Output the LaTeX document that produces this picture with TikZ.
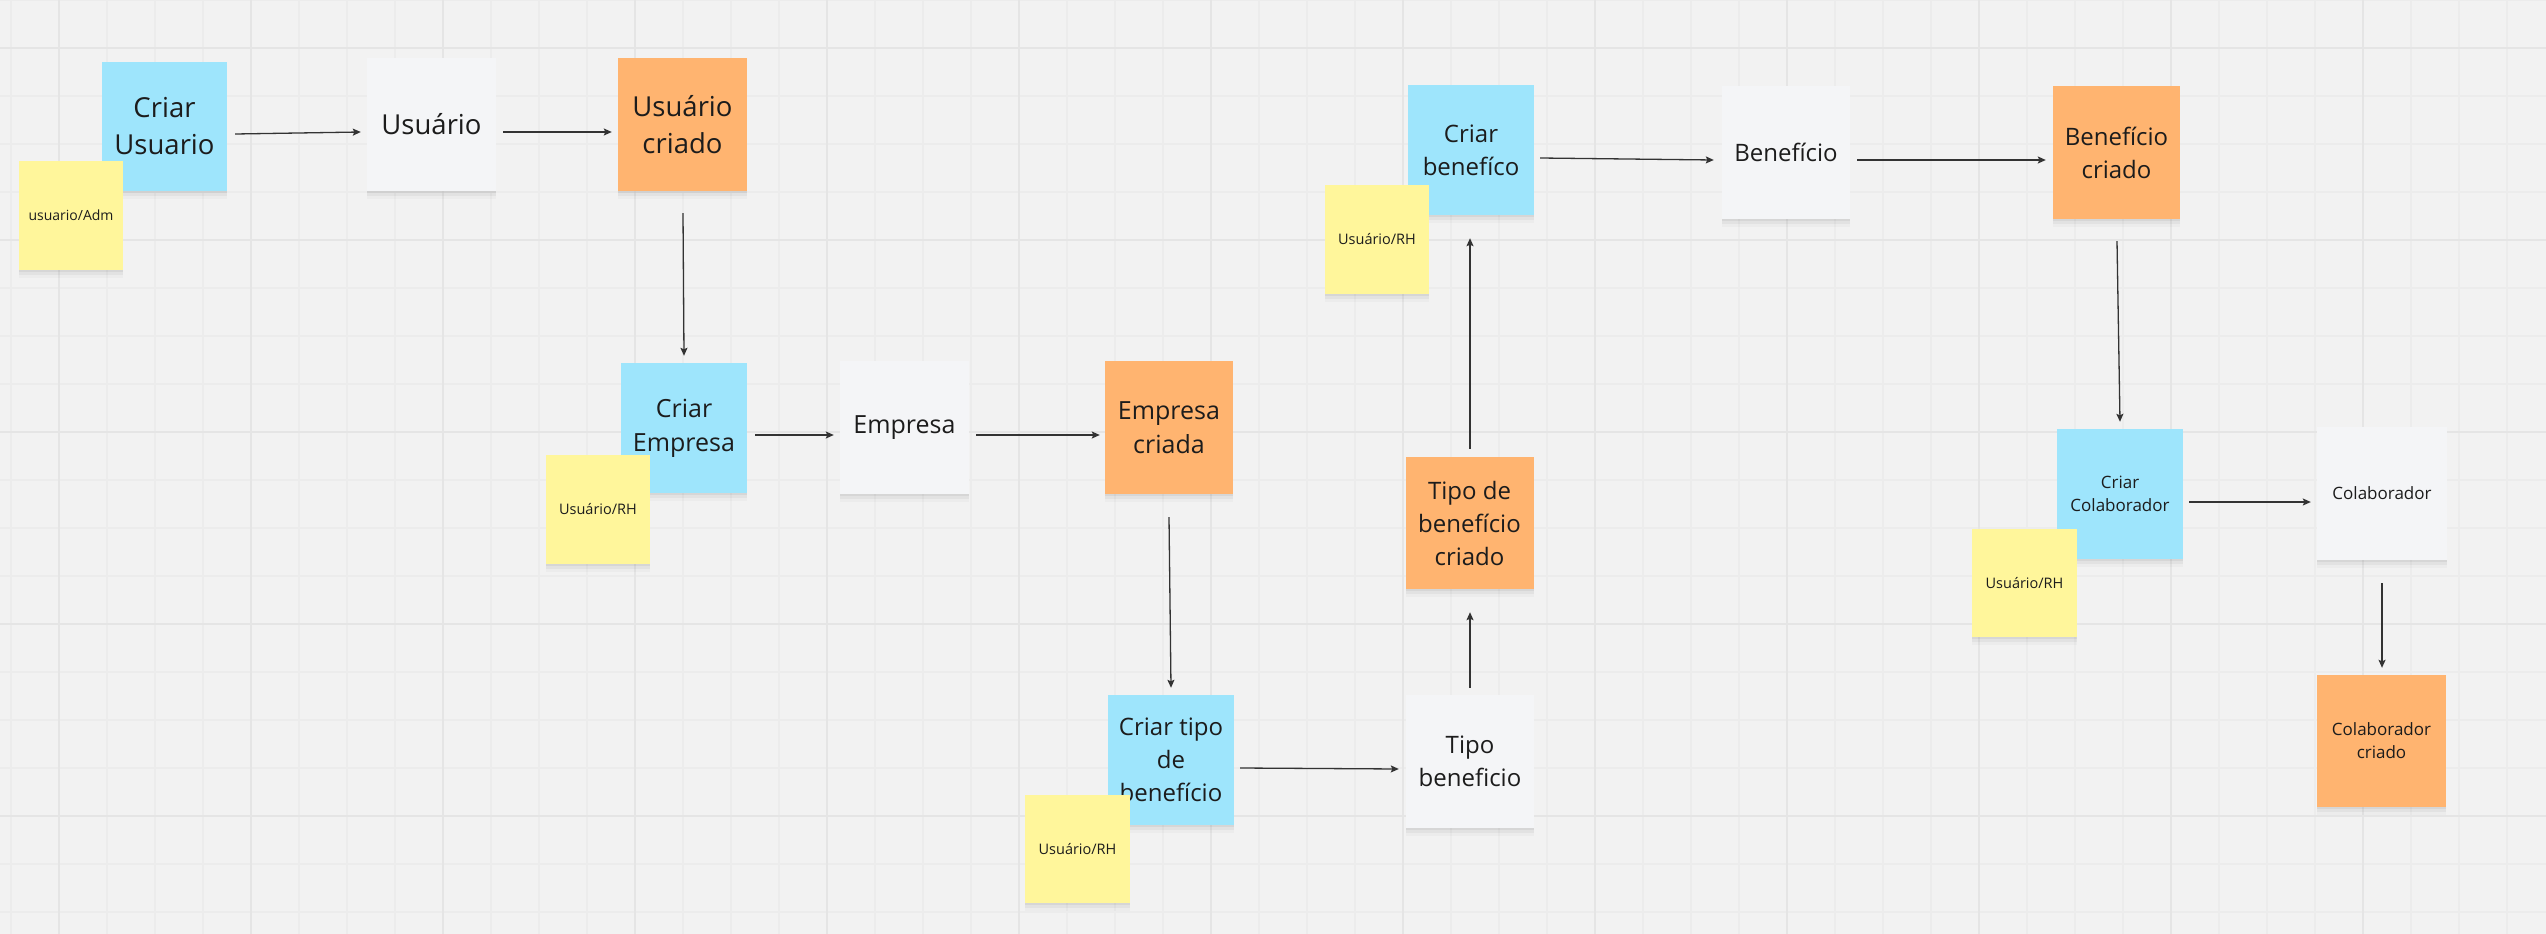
\documentclass[tikz,border=0pt]{standalone}
\usepackage{fontspec}
\setmainfont{Open Sans}
\usetikzlibrary{arrows.meta,calc,shadows}
\definecolor{bgc}{HTML}{F2F2F2}
\definecolor{minorc}{HTML}{ECECEC}
\definecolor{majorc}{HTML}{E5E5E5}
\definecolor{bluec}{HTML}{9EE5FC}
\definecolor{yellowc}{HTML}{FFF69B}
\definecolor{orangec}{HTML}{FFB470}
\definecolor{whitec}{HTML}{F4F5F7}
\definecolor{txtc}{HTML}{1C1C1C}
\definecolor{arrc}{HTML}{333333}
\tikzset{
  note/.style={rectangle, inner sep=0pt, align=center, text=txtc,
    minimum width=127pt, minimum height=131pt,
    drop shadow={shadow xshift=0pt, shadow yshift=-2pt, opacity=0.05, fill=black},
    drop shadow={shadow xshift=0pt, shadow yshift=-5pt, opacity=0.04, fill=black},
    drop shadow={shadow xshift=0pt, shadow yshift=-8pt, opacity=0.025, fill=black}},
  bluenote/.style={note, fill=bluec},
  orangenote/.style={note, fill=orangec},
  whitenote/.style={note, fill=whitec},
  yellownote/.style={note, fill=yellowc, minimum width=104pt, minimum height=108pt,
    font=\fontsize{14.5}{19}\selectfont},
  fa/.style={font=\fontsize{27.5}{37}\selectfont},
  fb/.style={font=\fontsize{25}{34}\selectfont},
  fc/.style={font=\fontsize{24}{33}\selectfont},
  fd/.style={font=\fontsize{17}{23}\selectfont},
  arr/.style={draw=arrc, line width=1.3pt, -{Stealth[length=8pt,width=7pt,inset=1.5pt]}},
  minorline/.style={draw=minorc, line width=1.3pt},
  majorline/.style={draw=majorc, line width=2.2pt}
}
\begin{document}
\begin{tikzpicture}[x=1pt,y=-1pt]
\fill[bgc] (0,0) rectangle (2546,934);
\useasboundingbox (0,0) rectangle (2546,934);
% grid
\foreach \x in {11,59,...,2543} \draw[minorline] (\x,0) -- (\x,934);
\foreach \y in {0,48,...,930} \draw[minorline] (0,\y) -- (2546,\y);
\foreach \x in {59,251,...,2543} \draw[majorline] (\x,0) -- (\x,934);
\foreach \y in {48,240,...,930} \draw[majorline] (0,\y) -- (2546,\y);

% row 1: user
\node[bluenote, fa, minimum width=125pt, minimum height=129pt] (cu) at (164.5,126.5) {Criar\\Usuario};
\node[yellownote, font=\fontsize{14}{18}\selectfont, minimum height=109pt] (ua) at (71,215.5) {usuario/Adm};
\node[whitenote, fa, minimum width=129pt, minimum height=133pt] (us) at (431.5,124.5) {Usuário};
\node[orangenote, fa, minimum width=129pt, minimum height=133pt] (uc) at (682.5,124.5) {Usuário\\criado};

% row 2: company
\node[bluenote, fb, minimum width=126pt, minimum height=130pt] (ce) at (684,428) {Criar\\Empresa};
\node[yellownote, minimum height=109pt] (rh1) at (598,509.5) {Usuário/RH};
\node[whitenote, fb, minimum width=129pt, minimum height=133pt] (em) at (904.5,427.5) {Empresa};
\node[orangenote, fb, minimum width=128pt, minimum height=133pt] (ec) at (1169,427.5) {Empresa\\criada};

% benefit type
\node[bluenote, fc, minimum width=126pt, minimum height=130pt] (ct) at (1171,760) {Criar tipo\\de\\benefício};
\node[yellownote, minimum width=105pt] (rh2) at (1077.5,849) {Usuário/RH};
\node[whitenote, fc, minimum width=128pt, minimum height=133pt] (tb) at (1470,761.5) {Tipo\\beneficio};
\node[orangenote, fc, minimum width=128pt, minimum height=132pt] (tc) at (1469.5,523) {Tipo de\\benefício\\criado};

% benefit
\node[bluenote, fc, minimum width=126pt, minimum height=130pt] (cb) at (1471,150) {Criar\\benefíco};
\node[yellownote, minimum height=109pt] (rh3) at (1377,239.5) {Usuário/RH};
\node[whitenote, fc, minimum width=128pt, minimum height=133pt] (be) at (1786,152.5) {Benefício};
\node[orangenote, fc, minimum width=127pt, minimum height=133pt] (bc) at (2116.5,152.5) {Benefício\\criado};

% collaborator
\node[bluenote, fd, minimum width=126pt, minimum height=130pt] (cc) at (2120,494) {Criar\\Colaborador};
\node[yellownote, minimum width=105pt] (rh4) at (2024.5,583) {Usuário/RH};
\node[whitenote, fd, minimum width=130pt, minimum height=133pt] (co) at (2382,493.5) {Colaborador};
\node[orangenote, fd, minimum width=129pt, minimum height=132pt] (cco) at (2381.5,741) {Colaborador\\criado};

% connectors
\draw[arr] ($(cu.east)+(8,7.5)$) -- ($(us.west)+(-6,7.5)$);
\draw[arr] ($(us.east)+(7,7.5)$) -- ($(uc.west)+(-6,7.5)$);
\draw[arr] ($(uc.south)+(0.5,22)$) -- ($(ce.north)+(0,-7)$);
\draw[arr] ($(ce.east)+(8,7)$) -- ($(em.west)+(-6,7.5)$);
\draw[arr] ($(em.east)+(7,7.5)$) -- ($(ec.west)+(-5,7.5)$);
\draw[arr] ($(ec.south)+(0,23)$) -- ($(ct.north)+(0,-7)$);
\draw[arr] ($(ct.east)+(6,8)$) -- ($(tb.west)+(-7,7.5)$);
\draw[arr] ($(tb.north)+(0,-7)$) -- ($(tc.south)+(0.5,23)$);
\draw[arr] ($(tc.north)+(0.5,-8)$) -- ($(cb.south)+(-1,23)$);
\draw[arr] ($(cb.east)+(6,8)$) -- ($(be.west)+(-8,7.5)$);
\draw[arr] ($(be.east)+(7,7.5)$) -- ($(bc.west)+(-7,7.5)$);
\draw[arr] ($(bc.south)+(0.5,22)$) -- ($(cc.north)+(0,-7)$);
\draw[arr] ($(cc.east)+(6,8)$) -- ($(co.west)+(-6,8.5)$);
\draw[arr] ($(co.south)+(0,23)$) -- ($(cco.north)+(0.5,-7)$);
\end{tikzpicture}
\end{document}
